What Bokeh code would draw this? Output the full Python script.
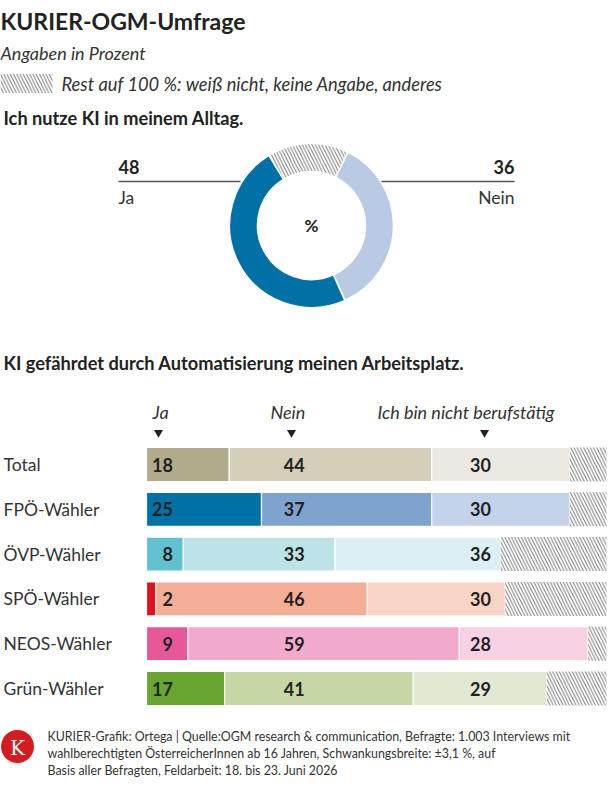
import math
from bokeh.plotting import figure
from bokeh.models import Range1d, ColumnDataSource
from bokeh.core.properties import value
from bokeh.embed import file_html
from bokeh.resources import INLINE

# ---------------- data ----------------
donut_labels = ["Nein", "Ja", "Rest"]
donut_values = [36, 48, 16]
donut_colors = ["#b9cbe4", "#0071a7", "#ffffff"]

groups = ["Total", "FPÖ-Wähler", "ÖVP-Wähler", "SPÖ-Wähler", "NEOS-Wähler", "Grün-Wähler"]
ja = [18, 25, 8, 2, 9, 17]
nein = [44, 37, 33, 46, 59, 41]
nicht = [30, 30, 36, 30, 28, 29]
col_headers = ["Ja", "Nein", "Ich bin nicht berufstätig"]

ja_colors = ["#b2ab8a", "#0071a7", "#62c1d0", "#e3101b", "#e7589a", "#68a531"]
nein_colors = ["#d4cfb8", "#7ea3cf", "#bde3e8", "#f4ae95", "#f2aacd", "#c6d7a6"]
nicht_colors = ["#ebe9e1", "#c3d3ea", "#dceff4", "#f9d5c7", "#f8d2e4", "#e2e9d2"]

FONT = "Lato"
DARK = "#222222"
TXT = "#333333"
HATCH = "#4a4a4a"
HSCALE = 6.5
HWEIGHT = 0.8

W, H = 616, 790
PX_PER_PCT = 4.6
BAR_X0 = 146
ROW_Y0 = 464
ROW_STEP = 44.8

p = figure(width=W, height=H, x_range=Range1d(0, W), y_range=Range1d(-H, 0),
           output_backend="svg", toolbar_location=None, min_border=0,
           x_axis_location=None, y_axis_location=None, outline_line_color=None,
           background_fill_color="white", border_fill_color="white")
p.grid.visible = False
p.extra_x_ranges = {"pct": Range1d(-BAR_X0 / PX_PER_PCT, (W - BAR_X0) / PX_PER_PCT)}
p.extra_y_ranges = {"row": Range1d(start=(H - ROW_Y0) / ROW_STEP, end=-ROW_Y0 / ROW_STEP)}

def txt(x, y, s, size, bold=False, italic=False, align="left", color=TXT, font=FONT):
    style = "normal"
    if bold and italic:
        style = "bold italic"
    elif bold:
        style = "bold"
    elif italic:
        style = "italic"
    p.text(x=[x], y=[-y], text=[s], text_font=value(font), text_font_size=f"{size}px",
           text_font_style=style, text_align=align, text_baseline="middle", text_color=color)

# ---------------- header ----------------
txt(0, 20, "KURIER-OGM-Umfrage", 23, bold=True, color=DARK)
txt(0, 52, "Angaben in Prozent", 18, italic=True)
p.rect(x=[26], y=[-83], width=52, height=19, fill_color="white", line_color=None,
       hatch_pattern="\\", hatch_color=HATCH, hatch_scale=HSCALE, hatch_weight=HWEIGHT)
txt(61, 83, "Rest auf 100 %: weiß nicht, keine Angabe, anderes", 18.3, italic=True)
txt(3, 117, "Ich nutze KI in meinem Alltag.", 18.2, bold=True, color=DARK)

# ---------------- donut ----------------
cx, cy, r_in, r_out = 311, -225, 54, 82
offset_deg = 26.4  # clockwise from 12 o'clock where first slice starts
starts, ends = [], []
acc = 0.0
total = sum(donut_values)
for v in donut_values:
    th0 = offset_deg + acc / total * 360
    th1 = offset_deg + (acc + v) / total * 360
    starts.append(math.radians(90 - th0))
    ends.append(math.radians(90 - th1))
    acc += v
src = ColumnDataSource(dict(start=starts, end=ends, color=donut_colors,
                            hatch=["blank", "blank", "\\"]))
p.annular_wedge(x=cx, y=cy, inner_radius=r_in, outer_radius=r_out,
                start_angle="start", end_angle="end", direction="clock",
                fill_color="color", line_color="white", line_width=1.5,
                hatch_pattern="hatch", hatch_color=HATCH, hatch_scale=HSCALE, hatch_weight=HWEIGHT,
                source=src)
txt(311, 225, "%", 17, bold=True, align="center", color=DARK)

# labels
p.line(x=[118, 240], y=[-181, -181], line_color="#555555", line_width=1.3)
p.line(x=[381, 514], y=[-181, -181], line_color="#555555", line_width=1.3)
txt(118, 166, str(donut_values[1]), 18, bold=True, color=DARK)
txt(118, 197, donut_labels[1], 17.5)
txt(514, 166, str(donut_values[0]), 18, bold=True, align="right", color=DARK)
txt(514, 197, donut_labels[0], 17.5, align="right")

# ---------------- bar chart ----------------
txt(3, 362, "KI gefährdet durch Automatisierung meinen Arbeitsplatz.", 18.2, bold=True, color=DARK)

txt(152, 411, col_headers[0], 18, italic=True)
txt(270, 411, col_headers[1], 18, italic=True)
txt(377, 411, col_headers[2], 18, italic=True)
p.scatter(x=[158, 291, 484], y=[-432, -432, -432], marker="inverted_triangle",
          size=9, fill_color=DARK, line_color=None)

rows = list(range(len(groups)))
left1 = [0] * len(groups)
right1 = ja
left2 = ja
right2 = [a + b for a, b in zip(ja, nein)]
left3 = right2
right3 = [a + b + c for a, b, c in zip(ja, nein, nicht)]
rest_right = [100] * len(groups)

BH = 34 / ROW_STEP
for l, r, c in [(left1, right1, ja_colors), (left2, right2, nein_colors), (left3, right3, nicht_colors)]:
    p.hbar(y=rows, left=l, right=r, height=BH, fill_color=c, line_color="white", line_width=1.2,
           x_range_name="pct", y_range_name="row")
p.hbar(y=rows, left=right3, right=rest_right, height=BH, fill_color="white", line_color=None,
       hatch_pattern="\\", hatch_color=HATCH, hatch_scale=HSCALE, hatch_weight=HWEIGHT,
       x_range_name="pct", y_range_name="row")

# row labels
p.text(x=[3] * len(groups), y=[-(ROW_Y0 + i * ROW_STEP) for i in rows], text=groups,
       text_font=value(FONT), text_font_size="17.5px", text_baseline="middle",
       text_color=TXT)

# value labels
for vals, xpos, align in [(ja, 5.75, "right"), (nein, 32.1, "center"), (nicht, 72.6, "center")]:
    p.text(x=[xpos] * len(groups), y=rows, text=[str(v) for v in vals],
           text_font=value(FONT), text_font_size="18px", text_font_style="bold",
           text_align=align, text_baseline="middle", text_color=DARK,
           x_range_name="pct", y_range_name="row")

# ---------------- footer ----------------
p.scatter(x=[17], y=[-746], size=33, marker="circle", fill_color="#d51b1e", line_color=None)
txt(17, 747, "K", 20, align="center", color="white", font="DejaVu Serif")
txt(47, 736, "KURIER-Grafik:  Ortega | Quelle:OGM research & communication, Befragte: 1.003 Interviews mit", 12.4)
txt(47, 753, "wahlberechtigten ÖsterreicherInnen ab 16 Jahren, Schwankungsbreite: ±3,1 %, auf", 12.4)
txt(47, 770, "Basis aller Befragten, Feldarbeit: 18. bis 23. Juni 2026", 12.4)

open("out.html", "w").write(file_html(p, INLINE))
